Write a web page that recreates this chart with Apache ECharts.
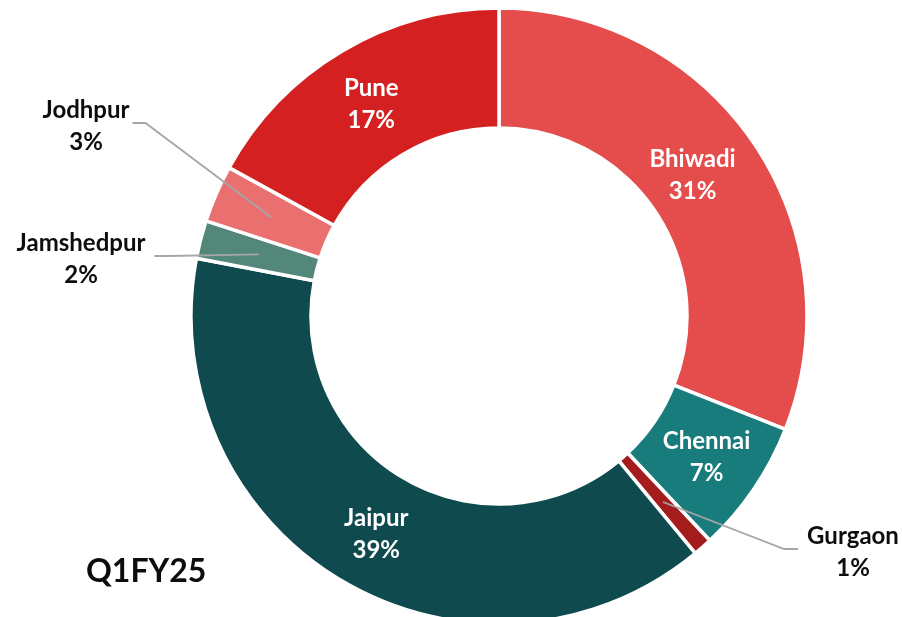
<!DOCTYPE html>
<html>
<head>
<meta charset="utf-8">
<script src="https://cdn.jsdelivr.net/npm/echarts@6/dist/echarts.min.js"></script>
<style>
html,body{margin:0;padding:0;background:#fff;}
#c{width:902px;height:617px;}
</style>
</head>
<body>
<div id="c"></div>
<script>
// ---- data ----
const cities = ['Bhiwadi', 'Chennai', 'Gurgaon', 'Jaipur', 'Jamshedpur', 'Jodhpur', 'Pune'];
const shares = [31, 7, 1, 39, 2, 3, 17];
const periodLabel = 'Q1FY25';
const outsideCities = ['Gurgaon', 'Jamshedpur', 'Jodhpur'];

// ---- styles / layout ----
const sliceColors = ['#E54C4C', '#187B7C', '#A51C1C', '#0F4B4E', '#53877A', '#EA7070', '#D42020'];
const FONT = 'Lato, "Open Sans", sans-serif';
const CX = 499, CY = 316;
const outsideSpots = {
  Jodhpur:    { x: 86,  y: 126, side: 'right', gap: 3 },
  Jamshedpur: { x: 81,  y: 259, side: 'right', gap: 9 },
  Gurgaon:    { x: 853, y: 552, side: 'left',  gap: 9 }
};
const insideOffsets = { Bhiwadi: [-14, 0], Pune: [0, 4], Jaipur: [5, 2] };

const chart = echarts.init(document.getElementById('c'), null, { renderer: 'canvas' });

const pctFmt = p => p.name + '\n' + Math.round(p.percent) + '%';

const ringData = cities.map((c, i) => ({
  name: c,
  value: shares[i],
  itemStyle: { color: sliceColors[i] },
  label: { show: outsideCities.indexOf(c) < 0, offset: insideOffsets[c] || [0, 0] }
}));

const guideData = cities.map((c, i) => {
  const out = outsideCities.indexOf(c) >= 0;
  return {
    name: c,
    value: shares[i],
    label: { show: out },
    labelLine: { show: out }
  };
});

chart.setOption({
  animation: false,
  title: {
    text: periodLabel,
    left: 86,
    top: 556,
    padding: 0,
    textStyle: { fontFamily: FONT, fontSize: 32, fontWeight: 'bold', color: '#0D0D0D' }
  },
  series: [
    {
      type: 'pie',
      z: 2,
      center: [CX, CY],
      radius: [188, 308],
      startAngle: 90,
      clockwise: true,
      silent: true,
      avoidLabelOverlap: false,
      itemStyle: { borderColor: '#ffffff', borderWidth: 3.5 },
      label: {
        position: 'inside',
        formatter: pctFmt,
        color: '#ffffff',
        fontFamily: FONT,
        fontSize: 24,
        fontWeight: 'bold',
        lineHeight: 32
      },
      labelLine: { show: false },
      emphasis: { disabled: true },
      data: ringData
    },
    {
      type: 'pie',
      z: 5,
      center: [CX, CY],
      radius: [0, 248],
      startAngle: 90,
      clockwise: true,
      silent: true,
      avoidLabelOverlap: false,
      itemStyle: { color: 'rgba(0,0,0,0)', borderWidth: 0 },
      label: {
        position: 'outside',
        formatter: pctFmt,
        color: '#0D0D0D',
        fontFamily: FONT,
        fontSize: 24,
        fontWeight: 'bold',
        lineHeight: 32
      },
      labelLine: {
        length: 20,
        length2: 14,
        lineStyle: { color: '#A6A6A6', width: 1.8 }
      },
      labelLayout: function (p) {
        const s = outsideSpots[cities[p.dataIndex]];
        if (!s) return {};
        const hw = p.labelRect.width / 2;
        const endX = s.side === 'right' ? s.x + hw + s.gap : s.x - hw - s.gap;
        const midX = s.side === 'right' ? endX + 13 : endX - 14;
        const res = { x: s.x, y: s.y, align: 'center', verticalAlign: 'middle' };
        if (p.labelLinePoints && p.labelLinePoints[0]) {
          res.labelLinePoints = [p.labelLinePoints[0], [midX, s.y - 3], [endX, s.y - 3]];
        }
        return res;
      },
      emphasis: { disabled: true },
      data: guideData
    }
  ]
});
</script>
</body>
</html>
